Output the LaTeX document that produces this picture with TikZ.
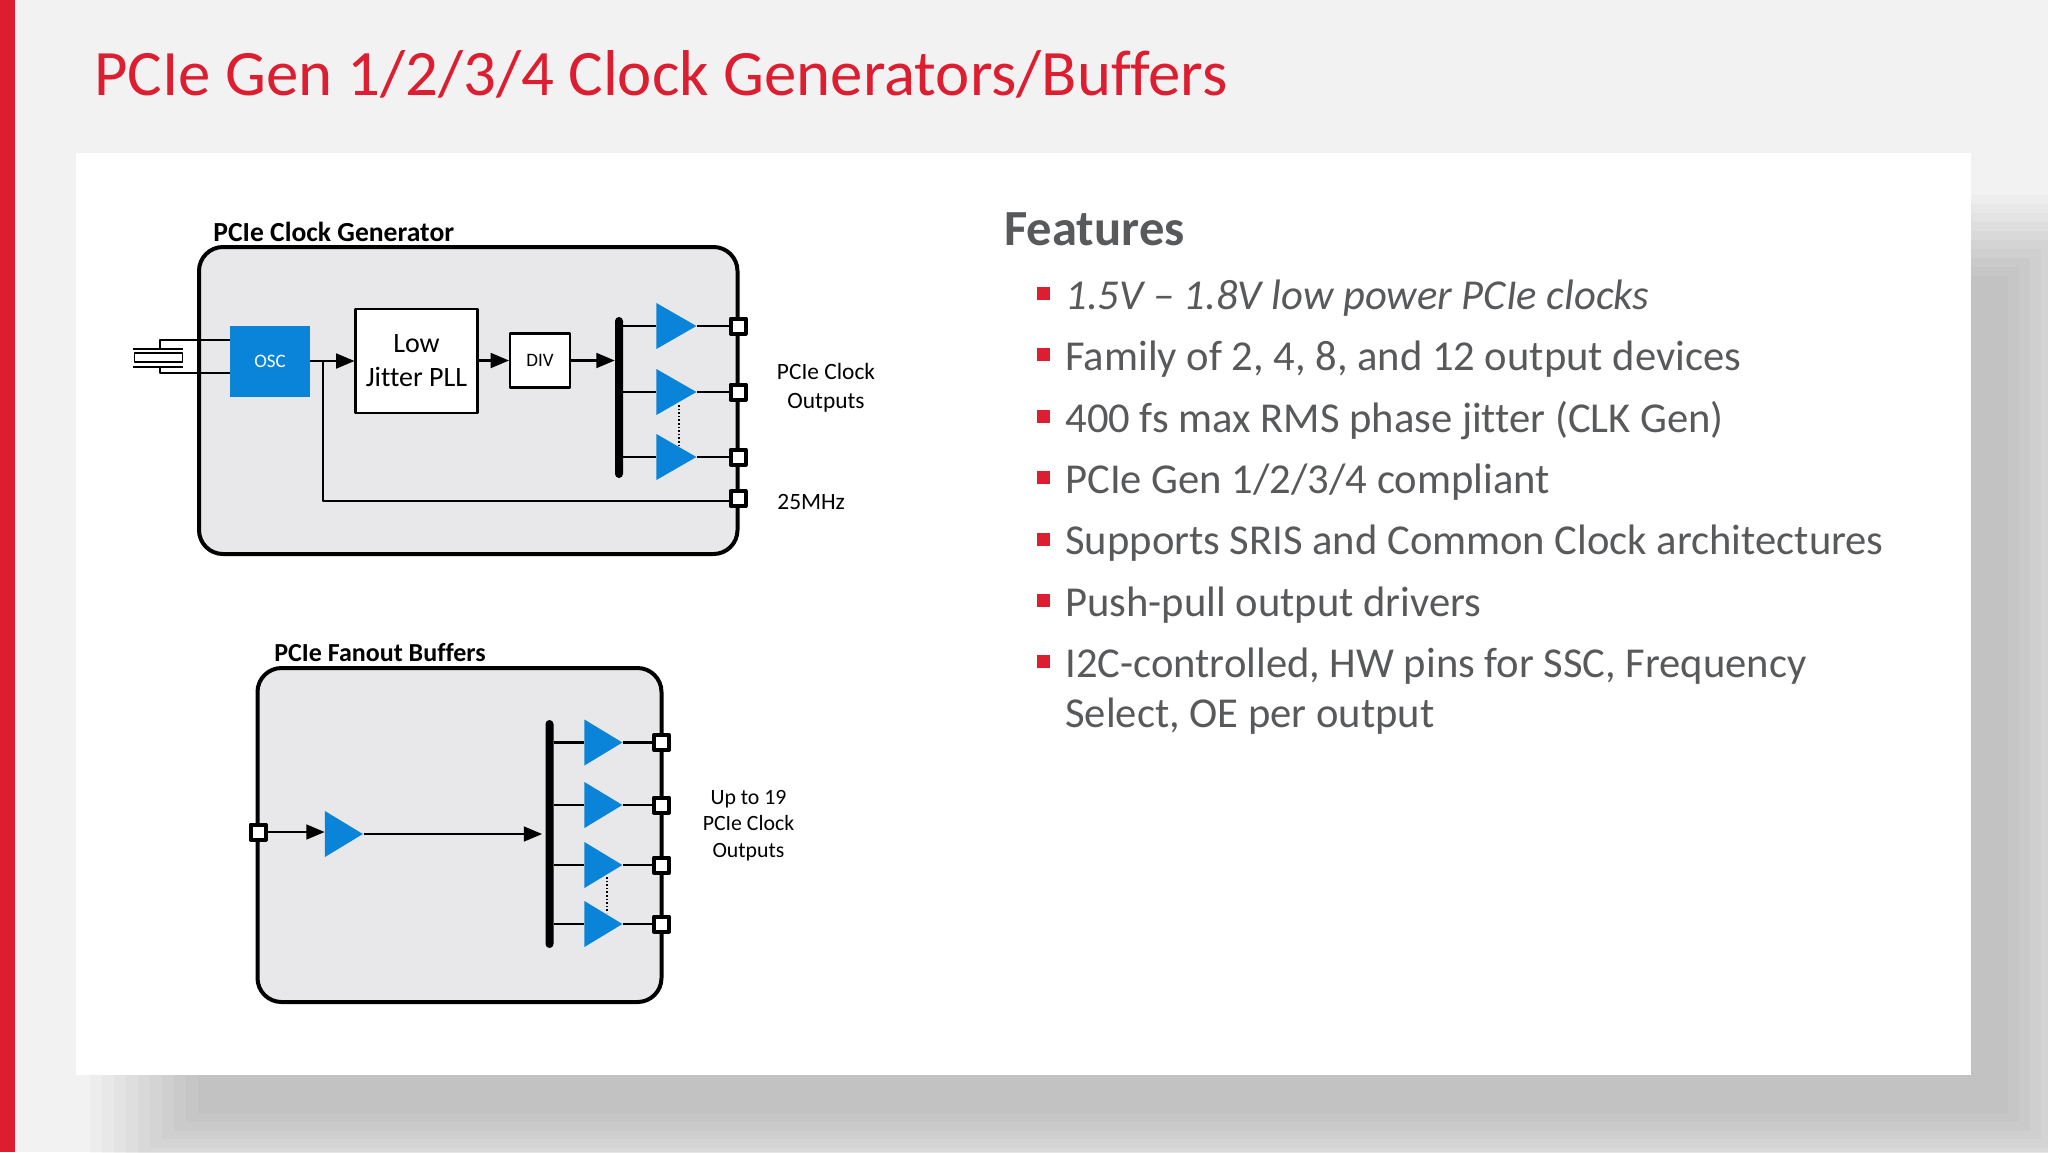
\documentclass[tikz,border=0pt]{standalone}
\usepackage{fontspec}
\setmainfont{Carlito}[Ligatures=NoCommon]
\usetikzlibrary{arrows,shapes.geometric}
\definecolor{slidered}{HTML}{DC1E30}
\definecolor{slidetext}{HTML}{58595B}
\definecolor{boxgray}{HTML}{E8E8EA}
\definecolor{ampblue}{HTML}{0A84D8}
\begin{document}
\begin{tikzpicture}[line cap=butt,line join=round,>=triangle 45,x=0.5pt,y=-0.5pt,
    chip/.style={draw=black,line width=2pt,fill=boxgray,rounded corners=12pt,inner sep=0pt},
    block/.style={draw=black,line width=1.1pt,fill=white,inner sep=0pt,align=center,font=\fontsize{14}{17}\selectfont},
    amp/.style={isosceles triangle,isosceles triangle apex angle=60,isosceles triangle stretches,fill=ampblue,inner sep=0pt,minimum width=23pt,minimum height=20pt,anchor=lower side},
    port/.style={draw=black,line width=2pt,fill=white,inner sep=0pt,minimum size=7.5pt},
    rail/.style={fill=black,inner sep=0pt,minimum width=4pt,rounded corners=2pt},
    wire/.style={line width=1.1pt},
    thinwire/.style={line width=0.8pt},
    lbl/.style={inner sep=0pt,align=center,font=\fontsize{11.7}{14.4}\selectfont},
    head/.style={inner sep=0pt,anchor=west,font=\fontsize{13.8}{16}\selectfont\bfseries},
    bullet/.style={fill=slidered,inner sep=0pt,minimum size=6.5pt},
    item/.style={inner sep=0pt,anchor=base west,text=slidetext,font=\fontsize{21.3}{25}\selectfont}]
        \useasboundingbox (0,0) rectangle (2048,1152);
        \fill [fill=black!5] (0,0) rectangle (2048,1152);
        \foreach \i in {0,...,9}
                \fill [black,opacity=0.018] (90+12*\i,195+9*\i) rectangle (2107-11*\i,1190-8.5*\i);
        \fill [white] (76,153) rectangle (1971,1075);
        \fill [slidered] (0,0) rectangle (15,1152);
        \node (title) [inner sep=0pt,anchor=base west,text=slidered,font=\fontsize{32.4}{38}\selectfont] at (94,95) {PCIe Gen 1/2/3/4 Clock Generators/Buffers};

        \node (gen) [chip,minimum width=269.25pt,minimum height=153.5pt] at (468.25,400.5) {};
        \node (gentitle) [head] at (213,231.5) {PCIe Clock Generator};
        \node (osc) [fill=ampblue,text=white,inner sep=0pt,minimum width=40pt,minimum height=35.5pt,font=\fontsize{9.5}{11}\selectfont] at (270,361) {OSC};
        \node (pll) [block,minimum width=61pt,minimum height=52pt] at (416.5,361) {Low\\Jitter PLL};
        \node (div) [block,font=\fontsize{9.5}{11}\selectfont,minimum width=30pt,minimum height=27pt] at (540,360.5) {DIV};
        \node (genrail) [rail,minimum height=80.5pt] at (619,397.5) {};
        \node (a1) [amp] at (656,326) {};
        \node (a2) [amp] at (656,392) {};
        \node (a3) [amp] at (656,457) {};
        \node (p1) [port] at (738,326) {};
        \node (p2) [port] at (738,392) {};
        \node (p3) [port] at (738,457) {};
        \node (p4) [port] at (738,498.5) {};
        \node (xtal) [draw=black,line width=0.9pt,inner sep=0pt,minimum width=24pt,minimum height=4.5pt] at (158.5,357.5) {};
        \coordinate (platetop) at (160,349);
        \coordinate (platebot) at (160,367);
        \coordinate (tap) at (323,361);
        \coordinate (ret) at (323,501);
        \draw [thinwire] (133,349)-- (183,349);
        \draw [thinwire] (133,367)-- (183,367);
        \draw [thinwire] (platetop)-- (160,340)-- (osc.west |- 0,340);
        \draw [thinwire] (platebot)-- (160,373)-- (osc.west |- 0,373);
        \draw [->,wire] (osc.east |- tap)-- (pll.west |- tap);
        \draw [->,wire] (pll.east |- div.west)-- (div.west);
        \draw [->,wire] (div.east)-- (genrail.west |- div.east);
        \draw [thinwire] (tap)-- (ret)-- (ret -| p4.west);
        \foreach \n in {1,2,3} {
                \draw [wire] (genrail.east |- a\n.lower side)-- (a\n.lower side);
                \draw [wire] (a\n.apex)-- (p\n);
        }
        \draw [thinwire,densely dotted] (679,405)-- (679,445);
        \node (genout) [lbl] at (826,388) {PCIe Clock\\Outputs};
        \node (genref) [lbl,anchor=west] at (777,502) {25MHz};

        \node (fan) [chip,minimum width=202pt,minimum height=167pt] at (459.5,835) {};
        \node (fantitle) [head,font=\fontsize{13}{16}\selectfont\bfseries] at (274,653) {PCIe Fanout Buffers};
        \node (in) [port] at (258,832) {};
        \node (a0) [amp,minimum height=19pt] at (324.5,834) {};
        \node (fanrail) [rail,minimum height=114pt] at (549.5,834) {};
        \node (b1) [amp,minimum height=19pt] at (584,742.5) {};
        \node (b2) [amp,minimum height=19pt] at (584,805) {};
        \node (b3) [amp,minimum height=19pt] at (584,865) {};
        \node (b4) [amp,minimum height=19pt] at (584,924) {};
        \node (q1) [port] at (661.5,742.5) {};
        \node (q2) [port] at (661.5,805) {};
        \node (q3) [port] at (661.5,865) {};
        \node (q4) [port] at (661.5,924) {};
        \draw [->,wire] (in)-- (a0.west |- in);
        \draw [->,wire] (a0.apex)-- (542,834);
        \foreach \n in {1,2,3,4} {
                \draw [wire] (fanrail.east |- b\n.lower side)-- (b\n.lower side);
                \draw [wire] (b\n.apex)-- (q\n);
        }
        \draw [thinwire,densely dotted] (607,877)-- (607,913);
        \node (fanout) [lbl,font=\fontsize{10.9}{13.4}\selectfont] at (748.5,825.5) {Up to 19\\PCIe Clock\\Outputs};

        \node (features) [inner sep=0pt,anchor=base west,text=slidetext,font=\fontsize{25.3}{30}\selectfont\bfseries] at (1004,245.5) {Features};
        \node (b1m) [bullet] at (1043.5,293) {};
        \node (t1) [item,font=\fontsize{21.3}{25}\selectfont\itshape] at (1065,309) {1.5V – 1.8V low power PCIe clocks};
        \node (b2m) [bullet] at (1043.5,354) {};
        \node (t2) [item] at (1065,370.5) {Family of 2, 4, 8, and 12 output devices};
        \node (b3m) [bullet] at (1043.5,416) {};
        \node (t3) [item] at (1065,432) {400 fs max RMS phase jitter (CLK Gen)};
        \node (b4m) [bullet] at (1043.5,477) {};
        \node (t4) [item] at (1065,493.5) {PCIe Gen 1/2/3/4 compliant};
        \node (b5m) [bullet] at (1043.5,539) {};
        \node (t5) [item] at (1065,554.5) {Supports SRIS and Common Clock architectures};
        \node (b6m) [bullet] at (1043.5,600) {};
        \node (t6) [item] at (1065,616) {Push-pull output drivers};
        \node (b7m) [bullet] at (1043.5,661) {};
        \node (t7) [item] at (1065,677.5) {I2C-controlled, HW pins for SSC, Frequency};
        \node (t8) [item] at (1065,727) {Select, OE per output};
\end{tikzpicture}
\end{document}
